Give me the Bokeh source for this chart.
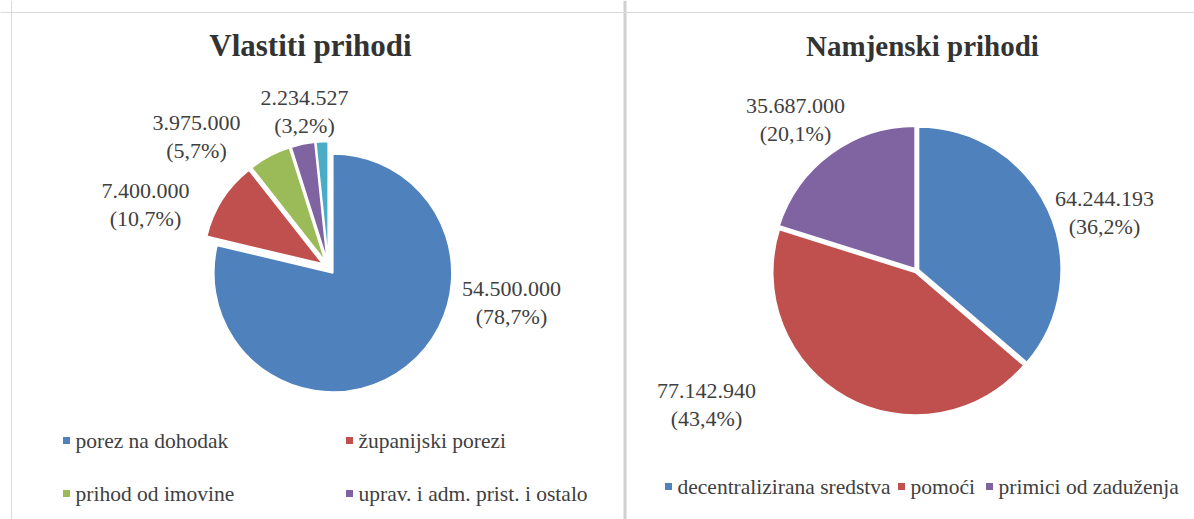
import numpy as np
from bokeh.plotting import figure
from bokeh.models import ColumnDataSource, Range1d, Span
from bokeh.core.properties import value
from bokeh.embed import file_html
from bokeh.resources import INLINE

# ---------------- data ----------------
own_title = "Vlastiti prihodi"
own_categories = ["porez na dohodak", "županijski porezi", "prihod od imovine",
                  "uprav. i adm. prist. i ostalo", "ostali prihodi"]
own_values = [54500000, 7400000, 3975000, 2234527, 1140000]
own_pct_labels = ["78,7%", "10,7%", "5,7%", "3,2%"]

ear_title = "Namjenski prihodi"
ear_categories = ["decentralizirana sredstva", "pomoći", "primici od zaduženja"]
ear_values = [64244193, 77142940, 35687000]
ear_pct_labels = ["36,2%", "43,4%", "20,1%"]

own_colors = ["#4f81bd", "#c0504d", "#9bbb59", "#8064a2", "#4bacc6"]
ear_colors = ["#4f81bd", "#c0504d", "#8064a2"]

# ---------------- layout (screen pixels, y measured downward) ----------------
FONT = "Liberation Serif"
LABEL_C = "#404040"
W, H = 1194, 519

own_center = (328, 267); own_r = 119; own_explode = 7
ear_center = (916, 270); ear_r = 143; ear_explode = 2

own_lab_x = [511, 145, 196, 304]
own_lab_y = [288, 190, 122, 97]
ear_lab_x = [1104, 706, 795]
ear_lab_y = [198, 390, 105]
pct_dy = 28

own_leg_x = [66, 349, 66, 349]
own_leg_y = [440, 440, 493, 493]
ear_leg_x = [668, 901, 989]
ear_leg_y = [486, 486, 486]


def fmt(v):
    return f"{v:,}".replace(",", ".")


def wedges(values, colors, center, d):
    v = np.asarray(values, dtype=float)
    frac = v / v.sum()
    cum = np.concatenate([[0.0], np.cumsum(frac)])
    start = np.pi / 2 - cum[1:] * 2 * np.pi
    end = np.pi / 2 - cum[:-1] * 2 * np.pi
    mid = (start + end) / 2
    cx, cy = center[0], -center[1]
    return ColumnDataSource(dict(
        x=cx + d * np.cos(mid), y=cy + d * np.sin(mid),
        start=start, end=end, color=colors[:len(v)]))


p = figure(width=W, height=H, x_range=Range1d(0, W), y_range=Range1d(-H, 0),
           output_backend="svg", toolbar_location=None, min_border=0,
           x_axis_location=None, y_axis_location=None, outline_line_color=None,
           background_fill_color="white", border_fill_color="white")
p.xgrid.visible = False
p.ygrid.visible = False

# panel borders
p.add_layout(Span(location=11, dimension="height", line_color="#d9d9d9", line_width=1))
p.add_layout(Span(location=624.5, dimension="height", line_color="#d0d0d0", line_width=3))
p.add_layout(Span(location=-12, dimension="width", line_color="#d9d9d9", line_width=1))

# pies
p.wedge(x="x", y="y", radius=own_r, start_angle="start", end_angle="end",
        fill_color="color", line_color="white", line_width=1.5,
        source=wedges(own_values, own_colors, own_center, own_explode))
p.wedge(x="x", y="y", radius=ear_r, start_angle="start", end_angle="end",
        fill_color="color", line_color="white", line_width=2,
        source=wedges(ear_values, ear_colors, ear_center, ear_explode))

# titles
p.text(x=[310], y=[-45], text=[own_title], text_font=value(FONT), text_font_size="31px",
       text_font_style="bold", text_align="center", text_baseline="middle", text_color="#333333")
p.text(x=[922], y=[-45], text=[ear_title], text_font=value(FONT), text_font_size="29px",
       text_font_style="bold", text_align="center", text_baseline="middle", text_color="#333333")

# data labels
def labels(vals, pcts, xs, ys):
    n = len(pcts)
    p.text(x=xs, y=[-y for y in ys], text=[fmt(v) for v in vals[:n]],
           text_font=value(FONT), text_font_size="22px", text_align="center",
           text_baseline="middle", text_color=LABEL_C)
    p.text(x=xs, y=[-(y + pct_dy) for y in ys], text=[f"({s})" for s in pcts],
           text_font=value(FONT), text_font_size="22px", text_align="center",
           text_baseline="middle", text_color=LABEL_C)

labels(own_values, own_pct_labels, own_lab_x, own_lab_y)
labels(ear_values, ear_pct_labels, ear_lab_x, ear_lab_y)

# legends
def legend(cats, colors, xs, ys):
    n = len(xs)
    p.scatter(x=xs, y=[-y for y in ys], marker="square", size=7,
              fill_color=colors[:n], line_color=None)
    p.text(x=[x + 9 for x in xs], y=[-y for y in ys], text=cats[:n],
           text_font=value(FONT), text_font_size="21.5px", text_align="left",
           text_baseline="middle", text_color=LABEL_C)

legend(own_categories, own_colors, own_leg_x, own_leg_y)
legend(ear_categories, ear_colors, ear_leg_x, ear_leg_y)

open("out.html", "w").write(file_html(p, INLINE))
